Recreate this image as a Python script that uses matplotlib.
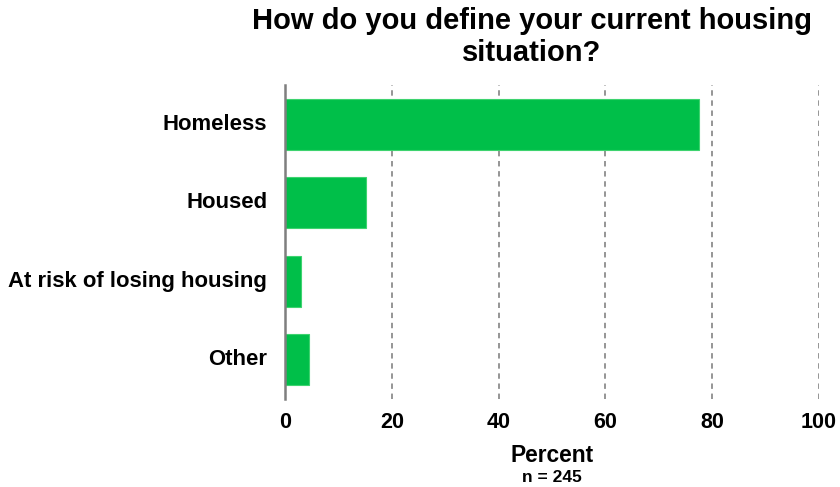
import matplotlib
matplotlib.use("Agg")
import matplotlib.pyplot as plt

categories = ["Homeless", "Housed", "At risk of losing housing", "Other"]
percent = [77.6, 15.1, 2.9, 4.5]
x_ticks = [0, 20, 40, 60, 80, 100]
n_total = 245

plt.rcParams['font.family'] = ['Liberation Sans', 'DejaVu Sans']

W, H = 840, 487
fig = plt.figure(figsize=(W / 100, H / 100), dpi=100)
ax = fig.add_axes([285.4 / W, 1 - 399 / H, (818.6 - 285.4) / W, (399 - 85) / H])

y = list(range(len(categories)))
ax.barh(y, percent, height=0.65, color="#00BF49", edgecolor="#3ED36F", linewidth=0.8, zorder=3)
ax.set_ylim(len(categories) - 0.5, -0.5)
ax.set_xlim(0, 100)
ax.set_yticks(y)
ax.set_yticklabels(categories, fontsize=15.9, fontweight="bold", va="center")
ax.set_xticks(x_ticks)
ax.set_xticklabels([str(t) for t in x_ticks], fontsize=15.5, fontweight="bold")
ax.tick_params(axis="y", length=0, pad=13)
ax.tick_params(axis="x", length=0, pad=9)

# dashed vertical gridlines at each major tick except zero
for t in x_ticks[1:]:
    ax.axvline(t, color="#8C8C8C", linestyle=(0, (3, 2.6)), linewidth=1.3, zorder=1)

for s in ["top", "right", "bottom"]:
    ax.spines[s].set_visible(False)
ax.spines["left"].set_color("#7F7F7F")
ax.spines["left"].set_linewidth(1.8)
ax.spines["left"].set_zorder(4)

fig.text(552 / W, 1 - 456 / H, "Percent", ha="center", va="center", fontsize=16.4, fontweight="bold")
fig.text(552 / W, 1 - 478 / H, f"n = {n_total}", ha="center", va="center", fontsize=12.5, fontweight="bold")

fig.text(532 / W, 1 - 37 / H, "How do you define your current housing\nsituation?",
         ha="center", va="center", fontsize=21, fontweight="bold", linespacing=1.22)

fig.savefig("out.png", dpi=100, facecolor="white")
